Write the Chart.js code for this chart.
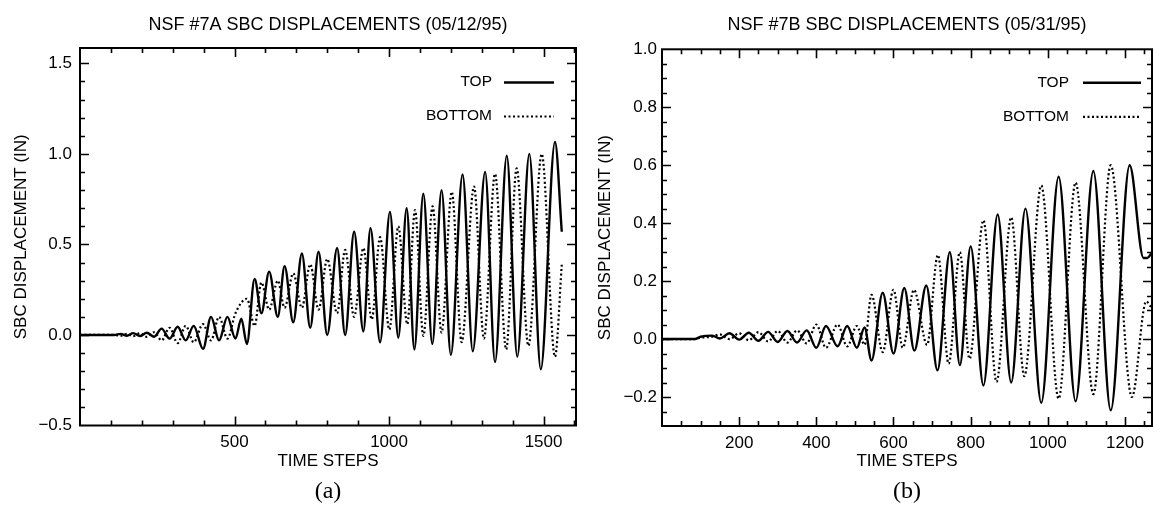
<!DOCTYPE html>
<html>
<head>
<meta charset="utf-8">
<script src="https://cdn.jsdelivr.net/npm/chart.js@4.4.0/dist/chart.umd.min.js"></script>
<style>
  html, body { margin: 0; padding: 0; background: #fff; overflow: hidden; }
  body { position: relative; width: 1154px; height: 511px; }
  .painel { position: absolute; top: 0; }
</style>
</head>
<body>
<div class="painel" style="left:0px"><canvas id="graficoA" width="585" height="511"></canvas></div>
<div class="painel" style="left:585px"><canvas id="graficoB" width="569" height="511"></canvas></div>
<script>
// ensaio NSF #7A - deslocamentos do SBC (passo de tempo x polegadas)
const passosTopoA = [0, 110, 132, 152, 172, 194, 216, 240, 264, 290, 316, 342, 368, 398, 424, 450, 477, 503, 522, 540,
  565, 587, 612, 640, 662, 690, 718, 745, 772, 800, 832, 858, 887, 917, 940, 971, 1003, 1030, 1057, 1082,
  1111, 1140, 1170, 1200, 1238, 1271, 1311, 1343, 1381, 1415, 1454, 1491, 1537, 1559];
const deslocTopoA = [0, 0, 0.006, -0.004, 0.01, -0.006, 0.012, -0.01, 0.035, -0.02, 0.045, -0.03, 0.05, -0.077, 0.10, -0.03, 0.10, -0.02, 0.09, -0.05,
  0.31, 0.12, 0.35, 0.10, 0.38, 0.07, 0.45, 0.04, 0.46, 0.00, 0.48, 0.00, 0.57, 0.02, 0.59, -0.04, 0.68, -0.015, 0.70, -0.08,
  0.78, -0.05, 0.80, -0.11, 0.886, -0.09, 0.90, -0.15, 0.99, -0.12, 1.00, -0.19, 1.066, 0.57];
const passosBaseA = [0, 110, 132, 152, 172, 194, 216, 240, 264, 290, 316, 342, 368, 398, 424, 450, 477, 503, 540, 565,
  587, 612, 640, 662, 690, 718, 745, 772, 800, 832, 858, 887, 917, 944, 971, 1001, 1030, 1059, 1084, 1111,
  1141, 1170, 1203, 1235, 1275, 1307, 1343, 1379, 1413, 1451, 1494, 1537, 1559];
const deslocBaseA = [0, 0, -0.004, 0.006, -0.006, 0.01, -0.01, 0.015, -0.03, 0.04, -0.045, 0.05, -0.04, 0.06, -0.03, 0.10, -0.02, 0.12, 0.20, 0.05,
  0.29, 0.14, 0.30, 0.15, 0.34, 0.15, 0.39, 0.14, 0.42, 0.12, 0.47, 0.10, 0.48, 0.086, 0.54, 0.03, 0.60, 0.06, 0.69, -0.005,
  0.71, 0.013, 0.79, -0.04, 0.82, -0.02, 0.89, -0.08, 0.92, -0.06, 1.00, -0.12, 0.39];

// ensaio NSF #7B
const passosTopoB = [0, 85, 100, 130, 150, 175, 200, 225, 250, 275, 300, 325, 350, 375, 400, 425, 455, 480, 505, 525,
  543, 572, 600, 628, 654, 685, 714, 746, 772, 800, 833, 870, 905, 942, 983, 1028, 1072, 1118, 1163, 1212,
  1248, 1258, 1268];
const deslocTopoB = [0, 0, 0.008, 0.012, 0.002, 0.02, -0.002, 0.022, -0.006, 0.025, -0.01, 0.028, -0.012, 0.03, -0.03, 0.045, -0.025, 0.045, -0.03, 0.04,
  -0.074, 0.16, -0.05, 0.176, -0.04, 0.185, -0.108, 0.30, -0.09, 0.32, -0.16, 0.43, -0.15, 0.45, -0.22, 0.56, -0.215, 0.58, -0.246, 0.60,
  0.28, 0.28, 0.295];
const passosBaseB = [0, 85, 100, 130, 150, 175, 200, 225, 250, 275, 300, 325, 350, 375, 400, 425, 455, 480, 505, 525,
  543, 572, 600, 624, 653, 687, 715, 743, 772, 797, 833, 867, 905, 939, 983, 1028, 1072, 1118, 1163, 1218,
  1255, 1268];
const deslocBaseB = [0, 0, 0.005, 0.008, 0.016, 0.0, 0.02, -0.004, 0.024, -0.008, 0.028, -0.012, 0.03, -0.015, 0.05, -0.03, 0.05, -0.025, 0.045, -0.02,
  0.153, -0.045, 0.17, -0.03, 0.17, -0.02, 0.29, -0.085, 0.30, -0.068, 0.41, -0.148, 0.42, -0.128, 0.53, -0.206, 0.54, -0.19, 0.60, -0.20,
  0.13, 0.11];

const rotulosSeries = ["TOP", "BOTTOM"];
const titulos = ["NSF #7A SBC DISPLACEMENTS (05/12/95)", "NSF #7B SBC DISPLACEMENTS (05/31/95)"];
const letrasPainel = ["(a)", "(b)"];
const tituloX = "TIME STEPS";
const tituloY = "SBC DISPLACEMENT (IN)";

const fonteSans = "'Liberation Sans', Arial, sans-serif";
const fonteSerif = "'Liberation Serif', 'Times New Roman', serif";

function pontos(xs, ys) {
  return xs.map((x, i) => ({ x: x, y: ys[i] }));
}

function ehMultiplo(v, passo) {
  const r = v / passo;
  return Math.abs(r - Math.round(r)) < 1e-6;
}

// marcas fixas de min a max no passo pedido (sem o ajuste automatico do chart.js)
function listaTicks(min, max, passo) {
  const lista = [];
  for (let k = Math.ceil(min / passo - 1e-9); k * passo <= max + 1e-9; k++) {
    lista.push({ value: +(k * passo).toFixed(6) });
  }
  return lista;
}

// numero com sinal de menos tipografico
function formatar(v, casas) {
  const s = Math.abs(v).toFixed(casas);
  return v < -1e-9 ? "\u2212" + s : s;
}

// moldura e marcas de escala para dentro, nos quatro lados
const marcasInternas = {
  id: "marcasInternas",
  afterDraw(chart, args, opts) {
    const { ctx, chartArea } = chart;
    const { left, right, top, bottom } = chartArea;
    const ex = chart.scales.x;
    const ey = chart.scales.y;
    ctx.save();
    ctx.strokeStyle = "#000";
    ctx.lineWidth = 2;
    ctx.strokeRect(left, top, right - left, bottom - top);
    ctx.lineWidth = 1.6;
    ctx.beginPath();
    ex.ticks.forEach((t) => {
      if (t.value <= ex.min || t.value >= ex.max) return;
      const px = Math.round(ex.getPixelForValue(t.value)) + 0.5;
      const tam = ehMultiplo(t.value, opts.maiorX) ? 9 : 5;
      ctx.moveTo(px, bottom); ctx.lineTo(px, bottom - tam);
      ctx.moveTo(px, top); ctx.lineTo(px, top + tam);
    });
    ey.ticks.forEach((t) => {
      if (t.value <= ey.min + 1e-9 || t.value >= ey.max - 1e-9) return;
      const py = Math.round(ey.getPixelForValue(t.value)) + 0.5;
      const tam = ehMultiplo(t.value, opts.maiorY) ? 9 : 5;
      ctx.moveTo(left, py); ctx.lineTo(left + tam, py);
      ctx.moveTo(right, py); ctx.lineTo(right - tam, py);
    });
    ctx.stroke();
    ctx.restore();
  }
};

// legenda dentro da area: texto a esquerda, amostra da linha a direita
const legendaInterna = {
  id: "legendaInterna",
  afterDraw(chart, args, opts) {
    const { ctx, chartArea } = chart;
    ctx.save();
    ctx.font = "15.5px " + fonteSans;
    ctx.fillStyle = "#000";
    ctx.strokeStyle = "#000";
    ctx.textAlign = "right";
    ctx.textBaseline = "middle";
    chart.data.datasets.forEach((ds, i) => {
      const y = chartArea.top + opts.linhas[i];
      ctx.fillText(ds.label, chartArea.right - opts.recuoTexto, y);
      ctx.beginPath();
      ctx.lineWidth = ds.borderWidth;
      ctx.setLineDash(ds.borderDash || []);
      ctx.moveTo(chartArea.right - opts.inicioLinha, y + 0.5);
      ctx.lineTo(chartArea.right - opts.fimLinha, y + 0.5);
      ctx.stroke();
    });
    ctx.restore();
  }
};

function criarGrafico(idCanvas, cfg) {
  const ctx = document.getElementById(idCanvas).getContext("2d");
  return new Chart(ctx, {
    type: "line",
    data: {
      datasets: [
        {
          label: rotulosSeries[0],
          data: pontos(cfg.passosTopo, cfg.deslocTopo),
          borderColor: "#000",
          borderWidth: 2.4,
          pointRadius: 0,
          fill: false,
          cubicInterpolationMode: "monotone",
        },
        {
          label: rotulosSeries[1],
          data: pontos(cfg.passosBase, cfg.deslocBase),
          borderColor: "#000",
          borderWidth: 2.2,
          borderDash: [2, 2.5],
          pointRadius: 0,
          fill: false,
          cubicInterpolationMode: "monotone",
        },
      ],
    },
    options: {
      responsive: false,
      animation: false,
      layout: { padding: { left: 0, right: cfg.folgaDireita, top: 0, bottom: 0 } },
      plugins: {
        legend: { display: false },
        tooltip: { enabled: false },
        title: {
          display: true,
          fullSize: false,
          text: cfg.titulo,
          color: "#000",
          font: { family: fonteSans, size: 18, weight: "normal" },
          padding: { top: 14.2, bottom: cfg.topoArea - 35.8 },
        },
        subtitle: {
          display: true,
          fullSize: false,
          position: "bottom",
          text: cfg.letra,
          color: "#000",
          font: { family: fonteSerif, size: 24, weight: "normal" },
          padding: { top: 0, bottom: 4.6 },
        },
        marcasInternas: { maiorX: cfg.maiorX, maiorY: cfg.maiorY },
        legendaInterna: cfg.legenda,
      },
      scales: {
        x: {
          type: "linear",
          min: 0,
          max: cfg.maxX,
          grid: { display: false, drawTicks: false },
          border: { display: false },
          afterBuildTicks: (escala) => { escala.ticks = listaTicks(escala.min, escala.max, cfg.menorX); },
          ticks: {
            autoSkip: false,
            maxRotation: 0,
            padding: 7,
            color: "#000",
            font: { family: fonteSans, size: 17 },
            callback: (v) => (v > 0 && ehMultiplo(v, cfg.maiorX) ? String(v) : ""),
          },
          title: {
            display: true,
            text: tituloX,
            color: "#000",
            font: { family: fonteSans, size: 17 },
            padding: { top: 0, bottom: 6 },
          },
          afterFit: (escala) => { escala.height = 511 - 33.4 - cfg.baseArea; },
        },
        y: {
          type: "linear",
          min: cfg.minY,
          max: cfg.maxY,
          grid: { display: false, drawTicks: false },
          border: { display: false },
          afterBuildTicks: (escala) => { escala.ticks = listaTicks(escala.min, escala.max, cfg.menorY); },
          ticks: {
            autoSkip: false,
            padding: cfg.folgaRotuloY,
            color: "#000",
            font: { family: fonteSans, size: 17 },
            callback: (v) => (ehMultiplo(v, cfg.maiorY) ? formatar(v, 1) : ""),
          },
          title: {
            display: true,
            text: tituloY,
            color: "#000",
            font: { family: fonteSans, size: 17 },
            padding: { top: cfg.folgaTituloY, bottom: 0 },
          },
          afterFit: (escala) => { escala.width = cfg.larguraEixoY; },
        },
      },
    },
    plugins: [marcasInternas, legendaInterna],
  });
}

criarGrafico("graficoA", {
  titulo: titulos[0], letra: letrasPainel[0],
  passosTopo: passosTopoA, deslocTopo: deslocTopoA,
  passosBase: passosBaseA, deslocBase: deslocBaseA,
  maxX: 1605, menorX: 100, maiorX: 500,
  minY: -0.5, maxY: 1.585, menorY: 0.1, maiorY: 0.5,
  larguraEixoY: 80, folgaDireita: 9, folgaRotuloY: 8, folgaTituloY: 10.8,
  topoArea: 48, baseArea: 425.5,
  legenda: { linhas: [34, 68], recuoTexto: 84, inicioLinha: 72, fimLinha: 22 },
});

criarGrafico("graficoB", {
  titulo: titulos[1], letra: letrasPainel[1],
  passosTopo: passosTopoB, deslocTopo: deslocTopoB,
  passosBase: passosBaseB, deslocBase: deslocBaseB,
  maxX: 1270, menorX: 50, maiorX: 200,
  minY: -0.3, maxY: 1.0, menorY: 0.05, maiorY: 0.2,
  larguraEixoY: 77, folgaDireita: 2, folgaRotuloY: 5, folgaTituloY: 10.5,
  topoArea: 49.3, baseArea: 426,
  legenda: { linhas: [33, 67], recuoTexto: 83, inicioLinha: 69, fimLinha: 11 },
});
</script>
</body>
</html>
